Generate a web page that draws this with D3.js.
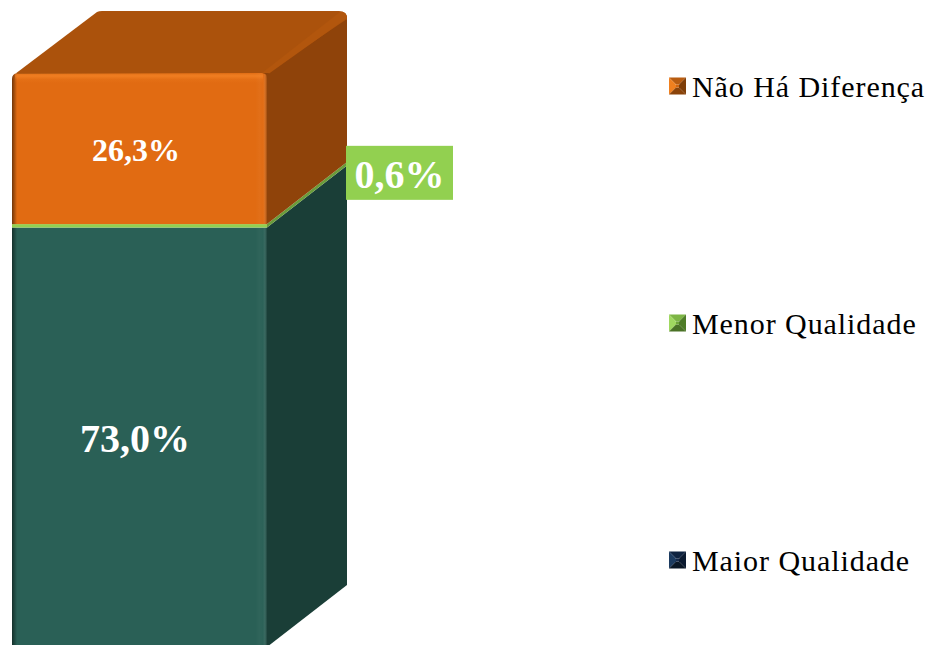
<!DOCTYPE html>
<html><head><meta charset="utf-8">
<script src="https://cdn.jsdelivr.net/npm/d3@7"></script>
<style>html,body{margin:0;padding:0;background:#fff;overflow:hidden}svg{display:block}text{font-family:"Liberation Serif","Times New Roman",serif}</style>
</head><body><svg id="c" width="928" height="645"></svg>
<script>
(function(){
const categories = ["Total"];
const seriesNames = ["Maior Qualidade", "Menor Qualidade", "Não Há Diferença"];
const seriesValues = [73.0, 0.6, 26.3];
const valueLabels = ["73,0%", "0,6%", "26,3%"];
const frontColors = ["#2a6056", "#92d050", "#e16b12"];
const sideColors = ["#1a3e37", "#6a9c3a", "#8f430a"];
const topColor = "#ab520c", topEdge = "#b2560d";
const legendColors = [
  ["#1c3b60","#0f2340","#0b1a30","#0a1726","#15294a"],
  ["#a0d860","#7db545","#4f7d28","#4a7226","#6fa53a"],
  ["#f0801f","#b85c10","#7f3e08","#8a4309","#d0660f"]
];
const labelShift = [0, 0, 1];

const svg = d3.select("#c"), defs = svg.append("defs");
const dx = 80, dy = -62;
const x = d3.scaleBand().domain(categories).range([12, 267]);
const y = d3.scaleLinear().domain([0, d3.sum(seriesValues)]).range([647, 73]);
const x0 = x(categories[0]), x1 = x0 + x.bandwidth();
const row = Object.fromEntries(seriesNames.map((n, i) => [n, seriesValues[i]]));
const stacked = d3.stack().keys(seriesNames)([row]);

const hg = defs.append("linearGradient").attr("id", "bevelX");
[[0, "#000", .5], [.008, "#000", .3], [.02, "#000", 0], [.955, "#fff", 0], [.97, "#fff", .025], [.985, "#fff", .01], [1, "#000", .3]]
  .forEach(s => hg.append("stop").attr("offset", s[0]).attr("stop-color", s[1]).attr("stop-opacity", s[2]));
const vg = defs.append("linearGradient").attr("id", "bevelY").attr("x2", 0).attr("y2", 1);
[[0, "#ffa040", .05], [.3, "#ff9030", .5], [.65, "#ff9030", .12], [1, "#ff9030", 0]]
  .forEach(s => vg.append("stop").attr("offset", s[0]).attr("stop-color", s[1]).attr("stop-opacity", s[2]));

const line = d3.line();
const g = svg.append("g");

stacked.forEach((s, i) => {
  const yb = y(s[0][0]), yt = y(s[0][1]);
  g.append("path").attr("fill", sideColors[i]).attr("d", line([[x1, yb], [x1 + dx, yb + dy], [x1 + dx, yt + dy], [x1, yt]]) + "Z");
  g.append("rect").attr("x", x0).attr("y", yt).attr("width", x1 - x0).attr("height", yb - yt).attr("fill", frontColors[i]);
  if (i !== 1) g.append("rect").attr("x", x0).attr("y", yt).attr("width", x1 - x0).attr("height", yb - yt).attr("fill", "url(#bevelX)");
});

const topY = y(d3.sum(seriesValues));
g.append("path").attr("fill", "#fff").attr("d", `M${x1 + dx - 9},${topY + dy}H${x1 + dx}V${topY + dy + 9}Q${x1 + dx},${topY + dy} ${x1 + dx - 9},${topY + dy}Z`);
g.append("path").attr("fill", topColor).attr("d",
  `M${x0 + 3},${topY + 1}L${x0 + dx + 5},${topY + dy + 1}Q${x0 + dx + 7},${topY + dy} ${x0 + dx + 10},${topY + dy}L${x1 + dx - 8},${topY + dy}Q${x1 + dx},${topY + dy} ${x1 + dx},${topY + dy + 8}L${x1},${topY}Z`);
g.append("path").attr("fill", topEdge).attr("d", `M${x1 - 5},${topY}L${x1 + dx - 7},${topY + dy + 1}Q${x1 + dx},${topY + dy} ${x1 + dx},${topY + dy + 7}L${x1},${topY + 2}Z`);
g.append("rect").attr("x", x0 + 3).attr("y", topY).attr("width", x1 - x0 - 7).attr("height", 10).attr("fill", "url(#bevelY)");
g.append("path").attr("fill", "#fff").attr("d", `M${x0},${topY + 6}Q${x0},${topY + 1} ${x0 + 5},${topY}L${x0},${topY}Z`);
g.append("path").attr("fill", sideColors[2]).attr("d", `M${x1},${topY + 5}Q${x1},${topY} ${x1 - 5},${topY}L${x1 + 2},${topY}Z`);

const fontSizes = [40, 40, 32];
stacked.forEach((s, i) => {
  if (i === 1) return;
  g.append("text").attr("x", (x0 + x1) / 2 - 4.5 + labelShift[i]).attr("y", (y(s[0][0]) + y(s[0][1])) / 2 + (i === 0 ? 15 : 12))
    .attr("text-anchor", "middle").attr("font-weight", "bold").attr("font-size", fontSizes[i]).attr("fill", "#fff").text(valueLabels[i]);
});
const midThin = (y(stacked[1][0][0]) + y(stacked[1][0][1])) / 2 + dy;
g.append("rect").attr("x", x1 + dx - 1).attr("y", midThin - 18).attr("width", 107).attr("height", 54).attr("fill", frontColors[1]);
g.append("text").attr("x", x1 + dx + 52.5).attr("y", midThin + 24).attr("text-anchor", "middle").attr("font-weight", "bold")
  .attr("font-size", fontSizes[1]).attr("fill", "#fff").text(valueLabels[1]);

const legendY = d3.scalePoint().domain(seriesNames).range([561, 87]);
const sw = 17;
seriesNames.forEach((n, i) => {
  const cy = legendY(n), lx = 669, c = legendColors[i], l = g.append("g").attr("transform", `translate(${lx},${cy - sw / 2 - 1})`);
  const ins = 7;
  [[[0,0],[sw,0],[sw-ins,ins],[ins,ins]], [[0,0],[ins,ins],[ins,sw-ins],[0,sw]], [[sw,0],[sw,sw],[sw-ins,sw-ins],[sw-ins,ins]], [[0,sw],[ins,sw-ins],[sw-ins,sw-ins],[sw,sw]]]
    .forEach((p, k) => l.append("path").attr("fill", c[[1,0,2,3][k]]).attr("d", line(p) + "Z"));
  l.append("rect").attr("x", ins).attr("y", ins).attr("width", sw - 2 * ins).attr("height", sw - 2 * ins).attr("fill", c[4]);
  g.append("text").attr("x", 692).attr("y", cy + 10).attr("font-size", 30).attr("letter-spacing", 0.93).attr("fill", "#000").text(n);
});
})();
</script></body></html>
